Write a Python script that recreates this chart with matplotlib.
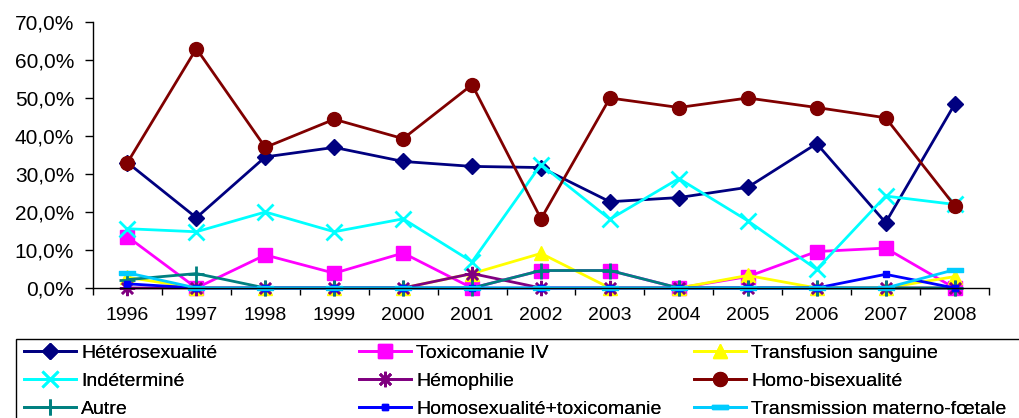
import matplotlib
matplotlib.use("Agg")
import matplotlib.pyplot as plt
from matplotlib.ticker import FuncFormatter, FixedLocator
from matplotlib.patches import Rectangle
import numpy as np

plt.rcParams['font.family'] = ['Liberation Sans', 'DejaVu Sans']

years = ["1996", "1997", "1998", "1999", "2000", "2001", "2002",
         "2003", "2004", "2005", "2006", "2007", "2008"]

heterosexualite = [33.0, 18.5, 34.5, 37.0, 33.3, 32.0, 31.7, 22.7, 23.8, 26.5, 38.0, 17.2, 48.3]
toxicomanie_iv = [13.5, 0.0, 8.7, 3.9, 9.2, 0.0, 4.6, 4.6, 0.0, 3.0, 9.6, 10.5, 0.0]
transfusion = [2.8, 0.0, 0.0, 0.0, 0.0, 3.8, 9.1, 0.0, 0.0, 3.3, 0.0, 0.0, 3.0]
indetermine = [15.6, 14.8, 20.0, 14.8, 18.2, 6.9, 32.5, 18.1, 28.8, 17.7, 4.9, 24.2, 22.0]
hemophilie = [0.0, 0.0, 0.0, 0.0, 0.0, 3.8, 0.0, 0.0, 0.0, 0.0, 0.0, 0.0, 0.0]
homo_bisexualite = [33.0, 63.0, 37.0, 44.4, 39.3, 53.5, 18.2, 50.0, 47.5, 50.0, 47.5, 44.8, 21.7]
autre = [2.2, 3.8, 0.0, 0.0, 0.0, 0.0, 4.6, 4.6, 0.0, 0.0, 0.0, 0.0, 0.0]
homo_toxico = [1.1, 0.0, 0.0, 0.0, 0.0, 0.0, 0.0, 0.0, 0.0, 0.0, 0.0, 3.6, 0.0]
materno_foetale = [4.0, 0.0, 0.0, 0.0, 0.0, 0.0, 0.0, 0.0, 0.0, 0.0, 0.0, 0.0, 4.8]

labels = ["Hétérosexualité", "Toxicomanie IV", "Transfusion sanguine",
          "Indéterminé", "Hémophilie", "Homo-bisexualité",
          "Autre", "Homosexualité+toxicomanie", "Transmission materno-fœtale"]

series = [heterosexualite, toxicomanie_iv, transfusion, indetermine, hemophilie,
          homo_bisexualite, autre, homo_toxico, materno_foetale]

dash = [(-1, -0.3), (1, -0.3), (1, 0.3), (-1, 0.3), (-1, -0.3)]
styles = [
    dict(color="#000080", marker="D", ms=8, mfc="#000080", mec="#000080"),
    dict(color="#FF00FF", marker="s", ms=10, mfc="#FF00FF", mec="#FF00FF"),
    dict(color="#FFFF00", marker="^", ms=10, mfc="#FFFF00", mec="#FFFF00"),
    dict(color="#00FFFF", marker="x", ms=11, mew=2, mec="#00FFFF"),
    dict(color="#800080", marker=(8, 2, 0), ms=11, mew=1.8, mec="#800080"),
    dict(color="#800000", marker="o", ms=10, mfc="#800000", mec="#800000"),
    dict(color="#008080", marker="+", ms=11, mew=2, mec="#008080"),
    dict(color="#0000FF", marker="s", ms=4, mfc="#0000FF", mec="#0000FF"),
    dict(color="#00CCFF", marker=dash, ms=11, mfc="#00CCFF", mec="#00CCFF"),
]

W, H = 1019, 418
fig = plt.figure(figsize=(W / 100, H / 100), dpi=100)
ax = fig.add_axes([93 / W, 1 - 288 / H, (989 - 93) / W, (288 - 22) / H])

x = np.arange(len(years))
handles = []
for vals, lab, st in zip(series, labels, styles):
    h, = ax.plot(x, vals, lw=2, label=lab, clip_on=False, **st)
    handles.append(h)

FS = 14
ax.set_xlim(-0.5, len(years) - 0.5)
ax.set_ylim(0, 70)
ax.set_yticks(np.arange(0, 71, 10))
ax.yaxis.set_major_formatter(FuncFormatter(lambda v, p: f"{v:.1f}%".replace(".", ",")))
ax.set_xticks(x)
ax.set_xticklabels(years)
ax.xaxis.set_minor_locator(FixedLocator(np.arange(-0.5, len(years), 1.0)))
ax.tick_params(axis="x", which="major", length=0, pad=13.5, labelsize=FS)
ax.tick_params(axis="x", which="minor", length=5, direction="out", width=1)
ax.tick_params(axis="y", length=6, direction="out", width=1, labelsize=15, pad=7.5)
for s in ["top", "right"]:
    ax.spines[s].set_visible(False)
for s in ["left", "bottom"]:
    ax.spines[s].set_linewidth(1)
    ax.spines[s].set_color("black")

# legend frame (extends past the right and bottom edges)
fig.patches.append(Rectangle((16 / W, -0.1), 1.2, 1 - 339 / H + 0.1,
                             transform=fig.transFigure, fill=False,
                             edgecolor="black", linewidth=1))

columns = [[0, 3, 6], [1, 4, 7], [2, 5, 8]]
col_x = [24, 359, 694]
for cols, cx in zip(columns, col_x):
    lg = fig.legend([handles[i] for i in cols], [labels[i] for i in cols],
                    loc="upper left", bbox_to_anchor=(cx / W, 1 - 344 / H),
                    frameon=False, fontsize=FS, handlelength=2.67,
                    handletextpad=0.26, borderaxespad=0, borderpad=0,
                    labelspacing=0.54)
    fig.add_artist(lg)

fig.savefig("out.png", dpi=100)
